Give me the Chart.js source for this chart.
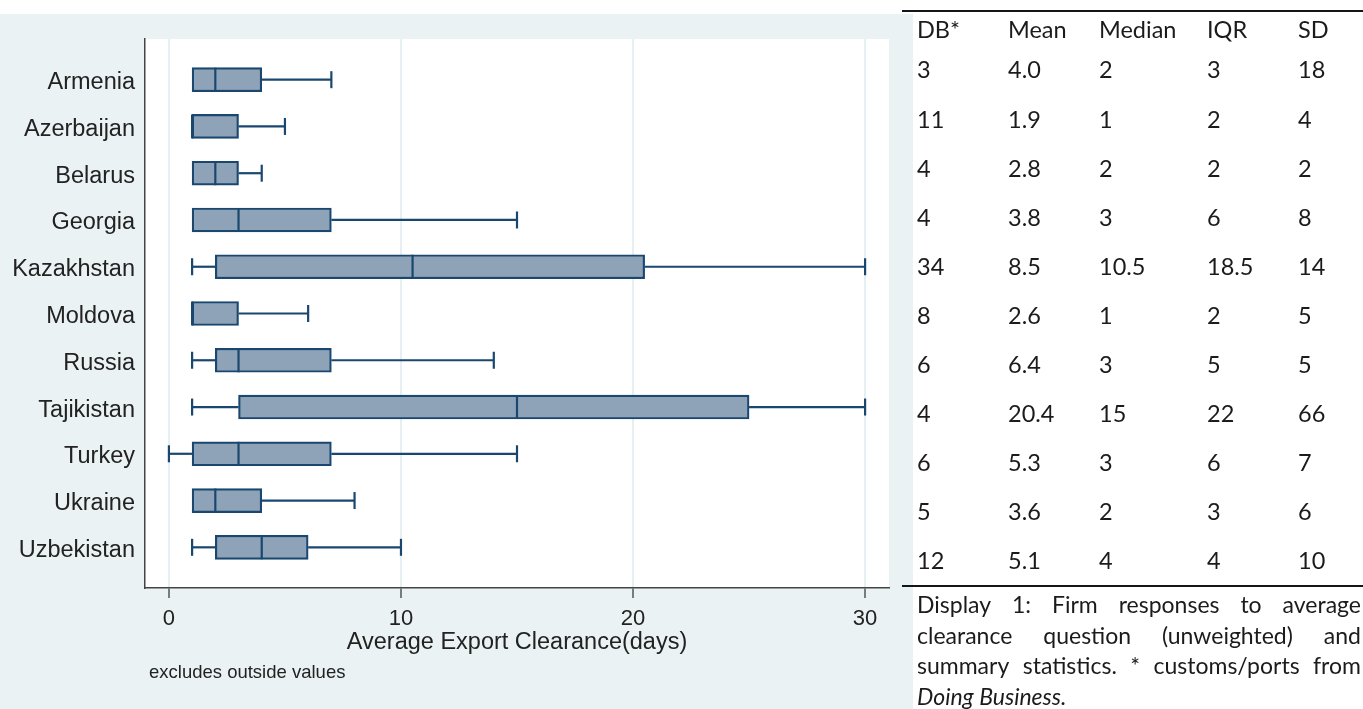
<!DOCTYPE html>
<html>
<head>
<meta charset="utf-8">
<script src="https://cdn.jsdelivr.net/npm/chart.js@4.4.1/dist/chart.umd.min.js"></script>
<style>
  html, body { margin: 0; padding: 0; background: #ffffff; width: 1363px; height: 709px; overflow: hidden; }
  #plotPanel { position: absolute; left: 0; top: 14px; width: 913px; height: 695px; background: #eaf2f3; }
  #plotPanel canvas { display: block; }
  #stats { position: absolute; left: 0; top: 0; width: 1363px; height: 709px; font-family: Lato, "Open Sans", sans-serif; color: #1b1b1b; pointer-events: none; }
  .rule { position: absolute; left: 902px; width: 461px; height: 2px; background: #151515; }
  .cell { position: absolute; font-size: 23.5px; line-height: 1; white-space: nowrap; }
  .capLine { position: absolute; left: 917px; width: 444px; display: flex; justify-content: space-between; font-size: 23px; line-height: 1; white-space: nowrap; }
  .capLine.last { justify-content: flex-start; font-style: italic; }
</style>
</head>
<body>
<div id="plotPanel"><canvas id="chart" width="913" height="695"></canvas></div>
<div id="stats"></div>
<script>
// Export clearance time per country (days): whisker ends, quartiles and medians
const categories  = ['Armenia', 'Azerbaijan', 'Belarus', 'Georgia', 'Kazakhstan', 'Moldova', 'Russia', 'Tajikistan', 'Turkey', 'Ukraine', 'Uzbekistan'];
const whiskerLow  = [1, 1, 1, 1, 1, 1, 1, 1, 0, 1, 1];
const quartile1   = [1, 1, 1, 1, 2, 1, 2, 3, 1, 1, 2];
const medians     = [2, 1, 2, 3, 10.5, 1, 3, 15, 3, 2, 4];
const quartile3   = [4, 3, 3, 7, 20.5, 3, 7, 25, 7, 4, 6];
const whiskerHigh = [7, 5, 4, 15, 30, 6, 14, 30, 15, 8, 10];
const xTickValues = [0, 10, 20, 30];

// Summary statistics table
const tableHeaders = ['DB*', 'Mean', 'Median', 'IQR', 'SD'];
const dbDays   = ['3', '11', '4', '4', '34', '8', '6', '4', '6', '5', '12'];
const meanDays = ['4.0', '1.9', '2.8', '3.8', '8.5', '2.6', '6.4', '20.4', '5.3', '3.6', '5.1'];
const iqrDays  = ['3', '2', '2', '6', '18.5', '2', '5', '22', '6', '3', '4'];
const sdDays   = ['18', '4', '2', '8', '14', '5', '5', '66', '7', '6', '10'];

const captionLines = [
  'Display 1: Firm responses to average',
  'clearance question (unweighted) and',
  'summary statistics. * customs/ports from'
];
const captionSource = 'Doing Business.';

const NAVY = '#1a476f';
const BOX_FILL = '#8ea3b7';
const TEXT = '#222222';
const AXIS_FONT = 'Liberation Sans';

// Whiskers, caps, medians and the white plot region
const boxPlotParts = {
  id: 'boxPlotParts',
  beforeDraw(chart) {
    const { ctx, chartArea: a } = chart;
    ctx.save();
    ctx.fillStyle = '#ffffff';
    ctx.fillRect(a.left, a.top, a.right - a.left, a.bottom - a.top);
    ctx.restore();
  },
  beforeDatasetsDraw(chart) {
    const { ctx, scales: { x, y } } = chart;
    ctx.save();
    ctx.strokeStyle = NAVY;
    ctx.lineWidth = 2.2;
    const whisker = (py, from, to) => {
      if (from === to) return;
      const x0 = x.getPixelForValue(from);
      const x1 = x.getPixelForValue(to);
      ctx.beginPath(); ctx.moveTo(x0, py); ctx.lineTo(x1, py); ctx.stroke();
      ctx.beginPath(); ctx.moveTo(x1, py - 8.5); ctx.lineTo(x1, py + 8.5); ctx.stroke();
    };
    categories.forEach((_, i) => {
      const py = y.getPixelForValue(i + 1);
      whisker(py, quartile1[i], whiskerLow[i]);
      whisker(py, quartile3[i], whiskerHigh[i]);
    });
    ctx.restore();
  },
  afterDatasetsDraw(chart) {
    const { ctx, scales: { x, y } } = chart;
    ctx.save();
    ctx.strokeStyle = NAVY;
    ctx.lineWidth = 2.2;
    categories.forEach((_, i) => {
      const py = y.getPixelForValue(i + 1);
      const px = x.getPixelForValue(medians[i]);
      ctx.beginPath(); ctx.moveTo(px, py - 12); ctx.lineTo(px, py + 12); ctx.stroke();
    });
    ctx.restore();
  },
  afterDraw(chart) {
    const { ctx, chartArea: a } = chart;
    ctx.save();
    ctx.font = '18.5px "' + AXIS_FONT + '"';
    ctx.fillStyle = TEXT;
    ctx.textBaseline = 'middle';
    ctx.textAlign = 'left';
    ctx.fillText('excludes outside values', a.left + 4, a.bottom + 85);
    ctx.restore();
  }
};

new Chart(document.getElementById('chart'), {
  type: 'bar',
  data: {
    datasets: [{
      data: categories.map((_, i) => ({ x: [quartile1[i], quartile3[i]], y: i + 1 })),
      backgroundColor: BOX_FILL,
      borderColor: NAVY,
      borderWidth: 2.2,
      borderSkipped: false,
      barThickness: 24
    }]
  },
  options: {
    indexAxis: 'y',
    responsive: false,
    devicePixelRatio: 1,
    animation: false,
    layout: { padding: { left: 0, top: 25, right: 24, bottom: 51 } },
    plugins: { legend: { display: false }, tooltip: { enabled: false } },
    scales: {
      x: {
        type: 'linear',
        min: -1.03,
        max: 31.03,
        afterBuildTicks: s => { s.ticks = xTickValues.map(v => ({ value: v })); },
        afterFit: s => { s.height = 70; },
        ticks: { font: { family: AXIS_FONT, size: 22 }, color: TEXT, padding: 8, maxRotation: 0, autoSkip: false },
        grid: { color: '#e6eff1', lineWidth: 2, tickColor: '#555555', tickLength: 10, tickWidth: 1.5 },
        border: { display: true, color: '#444444', width: 1.5 },
        title: {
          display: true,
          text: 'Average Export Clearance(days)',
          font: { family: AXIS_FONT, size: 23.5 },
          color: TEXT,
          padding: { top: 0, bottom: 1 }
        }
      },
      y: {
        type: 'linear',
        reverse: true,
        offset: false,
        min: 0.13,
        max: 11.87,
        afterBuildTicks: s => { s.ticks = categories.map((_, i) => ({ value: i + 1 })); },
        afterFit: s => { s.width = 145; },
        ticks: {
          callback: v => categories[v - 1],
          font: { family: AXIS_FONT, size: 23.5 },
          color: TEXT,
          padding: 10,
          labelOffset: 3,
          autoSkip: false
        },
        grid: { display: false, drawTicks: false, offset: false },
        border: { display: true, color: '#444444', width: 1.5 }
      }
    }
  },
  plugins: [boxPlotParts]
});

// Statistics table and caption
const stats = document.getElementById('stats');
const columnLeft = [917, 1008, 1099, 1207, 1298];
const headerMid = 30.8, firstRowMid = 70.8, rowStep = 49.1;
const cellLift = 12.4;

function addRule(top) {
  const r = document.createElement('div');
  r.className = 'rule';
  r.style.top = top + 'px';
  stats.appendChild(r);
}
function addCell(text, left, mid) {
  const d = document.createElement('div');
  d.className = 'cell';
  d.textContent = text;
  d.style.left = left + 'px';
  d.style.top = (mid - cellLift) + 'px';
  stats.appendChild(d);
}

addRule(10);
addRule(585);
tableHeaders.forEach((h, c) => addCell(h, columnLeft[c], headerMid));
categories.forEach((_, i) => {
  const mid = firstRowMid + i * rowStep;
  const row = [dbDays[i], meanDays[i], String(medians[i]), iqrDays[i], sdDays[i]];
  row.forEach((t, c) => addCell(t, columnLeft[c], mid));
});

const captionMid = 605, captionStep = 30.7;
captionLines.forEach((line, i) => {
  const d = document.createElement('div');
  d.className = 'capLine';
  d.style.top = (captionMid + i * captionStep - 12.2) + 'px';
  line.split(' ').forEach(w => {
    const s = document.createElement('span');
    s.textContent = w;
    d.appendChild(s);
  });
  stats.appendChild(d);
});
const last = document.createElement('div');
last.className = 'capLine last';
last.style.top = (captionMid + 3 * captionStep - 12.2) + 'px';
last.textContent = captionSource;
stats.appendChild(last);
</script>
</body>
</html>
